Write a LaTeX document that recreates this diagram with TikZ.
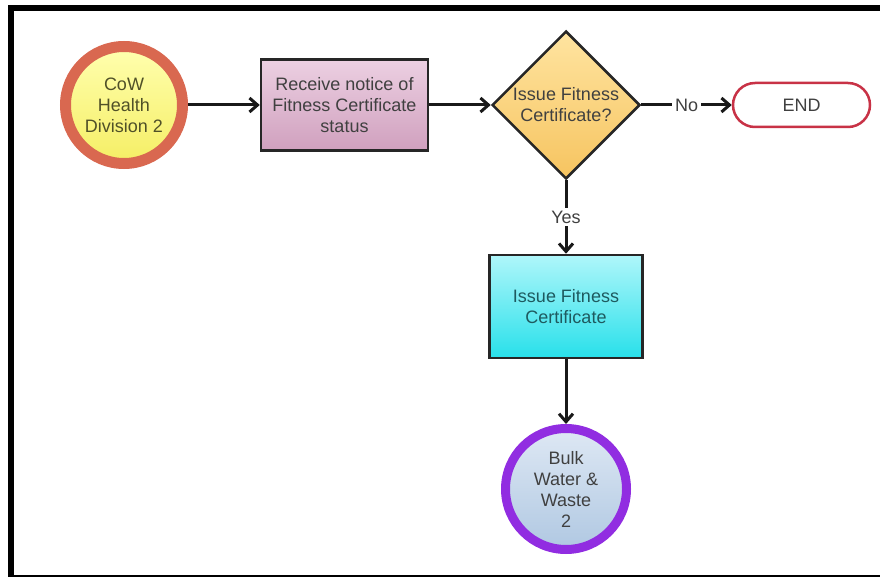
\documentclass[tikz,border=0pt]{standalone}
\usepackage{fontspec}
\setmainfont{Liberation Sans}
\usetikzlibrary{positioning,shapes.geometric,arrows.meta}

\definecolor{ringred}{RGB}{217,104,80}
\definecolor{ringpurple}{RGB}{145,45,225}
\definecolor{endred}{RGB}{200,50,70}
\definecolor{txtgray}{RGB}{64,64,64}

\begin{document}
\begin{tikzpicture}[x=1pt,y=-1pt,on grid,
    every node/.style={font=\fontsize{18}{21}\selectfont,align=center,inner sep=0pt,text=txtgray},
    terminal/.style={circle,minimum size=#1},
    box/.style={rectangle,draw=black!85,line width=2.5pt},
    flow/.style={draw=black!90,line width=3pt,-{Straight Barb[length=8pt,width=14pt]}},
    tag/.style={fill=white,inner sep=3pt}
  ]
  \useasboundingbox (0,0) rectangle (880,577);
  \clip (0,0) rectangle (880,577);
  \draw[line width=6pt] (890,8) -- (11,8) -- (11,578) -- (890,578);

  \node[terminal=117pt,draw=ringred,line width=11pt,top color={rgb,255:red,255;green,255;blue,175},
    bottom color={rgb,255:red,245;green,238;blue,100},text={rgb,255:red,80;green,80;blue,40}]
    (cow) at (124,105) {CoW\\Health\\Division 2};
  \node[box,minimum width=167pt,minimum height=91pt,right=220.5pt of cow,
    top color={rgb,255:red,236;green,208;blue,226},bottom color={rgb,255:red,208;green,160;blue,190}]
    (notice) {Receive notice of\\Fitness Certificate\\status};
  \node[diamond,draw=black!85,line width=2.5pt,minimum width=148pt,minimum height=148pt,right=221.5pt of notice,
    top color={rgb,255:red,255;green,228;blue,160},bottom color={rgb,255:red,246;green,196;blue,96}]
    (issue) {Issue Fitness\\Certificate?};
  \node[rectangle,draw=endred,line width=2.5pt,rounded corners=22pt,minimum width=137pt,minimum height=44pt,
    fill=white,right=235.5pt of issue] (end) {END};
  \node[box,minimum width=153pt,minimum height=103pt,below=201.5pt of issue,
    top color={rgb,255:red,175;green,246;blue,250},bottom color={rgb,255:red,40;green,224;blue,234},
    text={rgb,255:red,30;green,90;blue,95}]
    (cert) {Issue Fitness\\Certificate};
  \node[terminal=121pt,draw=ringpurple,line width=9pt,below=182.5pt of cert,
    top color={rgb,255:red,222;green,232;blue,244},bottom color={rgb,255:red,176;green,200;blue,226}]
    (bulk) {Bulk\\Water \&\\Waste\\2};

  \draw[flow] (cow) -- (notice);
  \draw[flow] (notice) -- (issue);
  \draw[flow] (issue) -- node[tag] {No} (end);
  \draw[flow] (issue) -- node[tag] {Yes} (cert);
  \draw[flow] (cert) -- (bulk);
\end{tikzpicture}
\end{document}
